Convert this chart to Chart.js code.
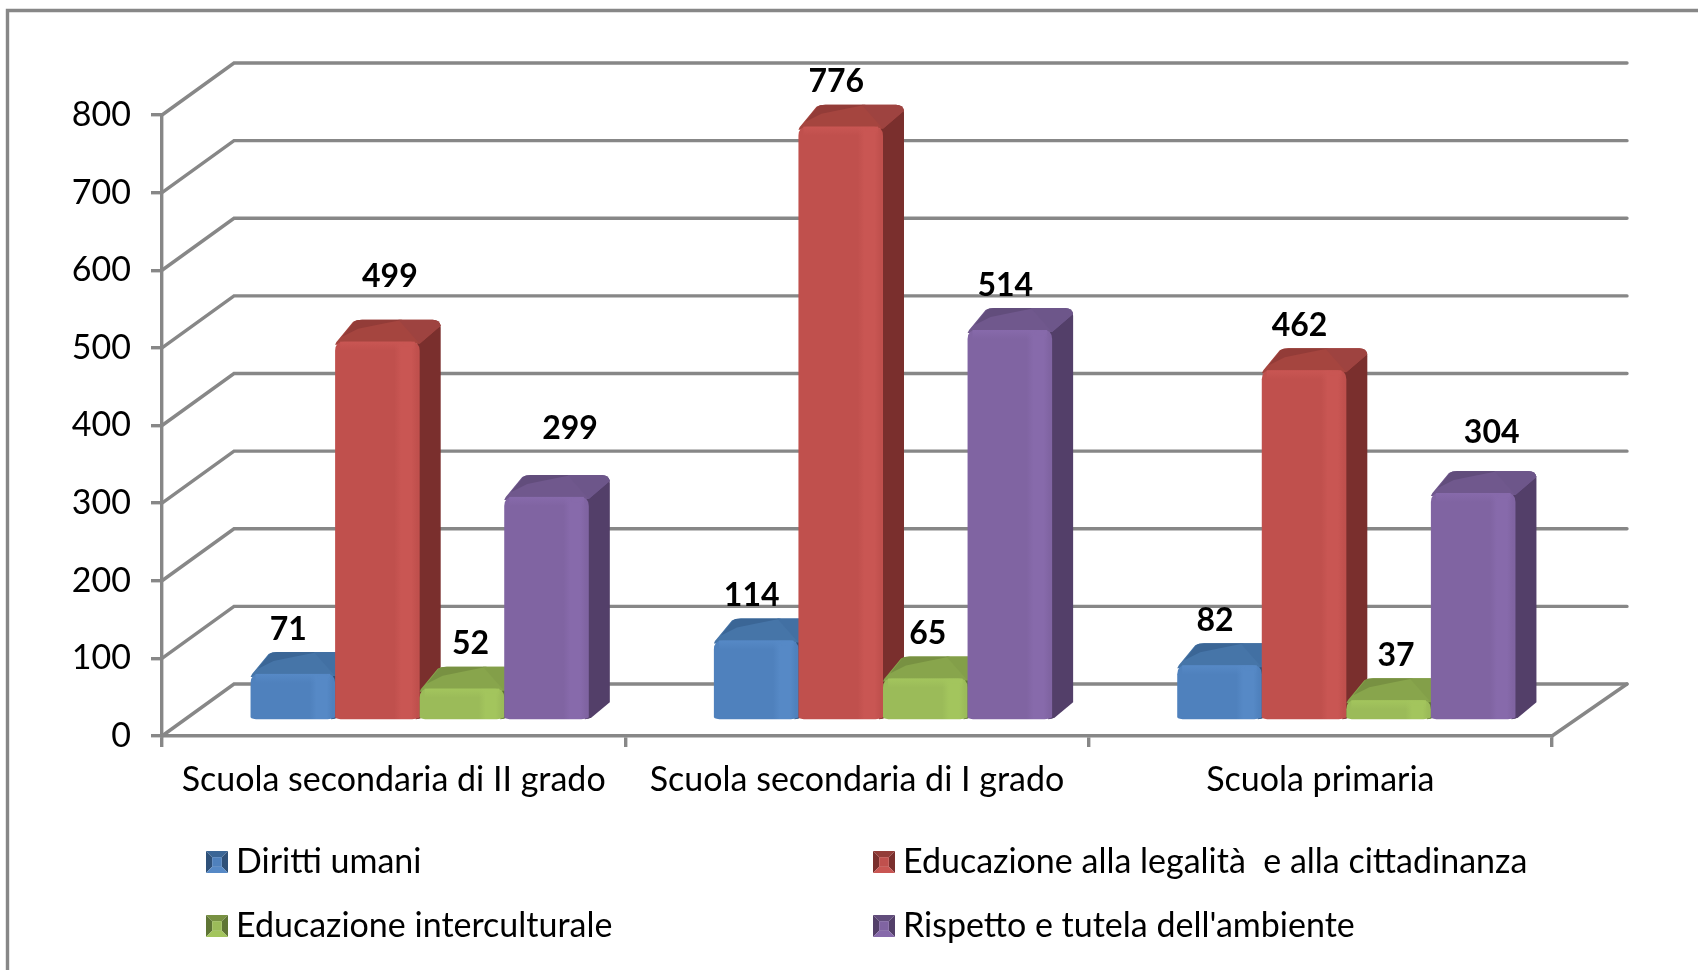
<!DOCTYPE html>
<html><head><meta charset="utf-8">
<style>html,body{margin:0;padding:0;background:#fff}canvas{display:block}</style>
<script src="https://cdn.jsdelivr.net/npm/chart.js@4/dist/chart.umd.min.js"></script>
</head><body><canvas id="c" width="1698" height="970"></canvas>
<script>
const categories = ["Scuola secondaria di II grado", "Scuola secondaria di I grado", "Scuola primaria"];
const dirittiUmani = [71, 114, 82];
const educazioneLegalita = [499, 776, 462];
const educazioneInterculturale = [52, 65, 37];
const rispettoAmbiente = [299, 514, 304];
const seriesNames = ["Diritti umani", "Educazione alla legalità  e alla cittadinanza", "Educazione interculturale", "Rispetto e tutela dell'ambiente"];

const FONT = 'Lato, Carlito, sans-serif';
const GREY = '#878787';
const palette = [
  {face:'#4f81bd', hi:'#5689c6', top:'#4675a8', topL:'#3b6696', topR:'#4270a3', side:'#2f5179'},
  {face:'#c0504d', hi:'#c95653', top:'#a5453f', topL:'#933c38', topR:'#9e4340', side:'#7a2f2d'},
  {face:'#9bbb59', hi:'#a3c55d', top:'#88a54c', topL:'#789142', topR:'#839f49', side:'#5f7535'},
  {face:'#8064a2', hi:'#876aab', top:'#70588d', topL:'#624d7c', topR:'#6d568a', side:'#533f69'}
];
// depth of the 3D projection
const WALL = {dx:72, dy:52};
const BAR = {dx:26, topLift:7, baseLift:15, depthX:21, depthY:22, sideBottom:17, r:9};
// hand placed offsets of the value labels, per series and category
const labelNudge = [
  [[-15,0],[-15,0],[-15,0]],
  [[2,-20],[-15,0],[-15,0]],
  [[-2,0],[-8,0],[-3,0]],
  [[13,-24],[-15,0],[8,-16]]
];

function drawBar(ctx, el, pal){
  const w = el.width;
  const x0 = el.x - w/2 + BAR.dx, x1 = x0 + w;
  const yt = el.y - BAR.topLift, yb = el.base - BAR.baseLift;
  const dx = BAR.depthX, dy = BAR.depthY, r = BAR.r;
  // side
  ctx.fillStyle = pal.side;
  ctx.beginPath();
  ctx.moveTo(x1-3, yt+2);
  ctx.lineTo(x1+dx-3, yt-dy+2);
  ctx.quadraticCurveTo(x1+dx, yt-dy+3, x1+dx, yt-dy+8);
  ctx.lineTo(x1+dx, yb-BAR.sideBottom);
  ctx.lineTo(x1+3, yb-2);
  ctx.quadraticCurveTo(x1, yb, x1-4, yb);
  ctx.closePath(); ctx.fill();
  // top
  ctx.fillStyle = pal.top;
  ctx.beginPath();
  ctx.moveTo(x0, yt+3);
  ctx.quadraticCurveTo(x0+1, yt, x0+4, yt-3);
  ctx.lineTo(x0+dx-3, yt-dy+2);
  ctx.quadraticCurveTo(x0+dx, yt-dy, x0+dx+6, yt-dy);
  ctx.lineTo(x1+dx-8, yt-dy);
  ctx.quadraticCurveTo(x1+dx-1, yt-dy, x1+dx, yt-dy+6);
  ctx.lineTo(x1, yt+2);
  ctx.lineTo(x0, yt+3);
  ctx.closePath(); ctx.fill();
  // top facets: left and right
  ctx.fillStyle = pal.topL;
  ctx.beginPath();
  ctx.moveTo(x0+7, yt-5); ctx.lineTo(x0+dx-2, yt-dy+2); ctx.quadraticCurveTo(x0+dx, yt-dy, x0+dx+6, yt-dy);
  ctx.lineTo(x0+dx+w*0.55, yt-dy); ctx.quadraticCurveTo(x0+w*0.5, yt-dy+5, x0+dx+2, yt-dy+9);
  ctx.closePath(); ctx.fill();
  ctx.fillStyle = pal.topR;
  ctx.beginPath();
  ctx.moveTo(x0+dx+w*0.5, yt-dy); ctx.lineTo(x1+dx-8, yt-dy); ctx.quadraticCurveTo(x1+dx-1, yt-dy, x1+dx, yt-dy+6);
  ctx.lineTo(x1, yt+2); ctx.closePath(); ctx.fill();
  // front
  const g = ctx.createLinearGradient(x0, 0, x1, 0);
  g.addColorStop(0, pal.face); g.addColorStop(0.70, pal.face);
  g.addColorStop(0.78, pal.hi); g.addColorStop(0.90, pal.hi); g.addColorStop(0.97, pal.face); g.addColorStop(1, pal.face);
  ctx.fillStyle = g;
  ctx.beginPath();
  ctx.moveTo(x0, yt+r);
  ctx.quadraticCurveTo(x0, yt, x0+r, yt);
  ctx.lineTo(x1-r, yt);
  ctx.quadraticCurveTo(x1, yt, x1, yt+r);
  ctx.lineTo(x1, yb-2);
  ctx.quadraticCurveTo(x1-2, yb, x1-r-3, yb);
  ctx.lineTo(x0+r, yb);
  ctx.quadraticCurveTo(x0+1, yb, x0, yb-2);
  ctx.closePath(); ctx.fill();
  // highlight of the top bevel
  const h = ctx.createLinearGradient(0, yt, 0, yt+9);
  h.addColorStop(0, pal.hi); h.addColorStop(1, pal.hi + '00');
  ctx.fillStyle = h;
  ctx.fillRect(x0+5, yt, w-10, 9);
  ctx.fillStyle = pal.hi;
  ctx.beginPath(); ctx.ellipse(x1-12, yt+3, 6, 2.4, 0, 0, Math.PI*2); ctx.fill();
}

function drawLegendBox(ctx, x, y, s, pal){
  const m = s*0.28;
  const quad = (c, pts)=>{ctx.fillStyle=c;ctx.beginPath();pts.forEach((p,i)=>i?ctx.lineTo(p[0],p[1]):ctx.moveTo(p[0],p[1]));ctx.closePath();ctx.fill();};
  const a=[x,y],b=[x+s,y],c=[x+s,y+s],d=[x,y+s];
  const A=[x+m,y+m],B=[x+s-m,y+m],C=[x+s-m,y+s-m],D=[x+m,y+s-m];
  quad(pal.topL,[a,b,B,A]);
  quad(pal.side,[a,A,D,d]);
  quad(pal.side,[b,B,C,c]);
  quad(pal.hi,[d,c,C,D]);
  quad(pal.face,[A,B,C,D]);
}

const plugin3d = {
  id: 'plugin3d',
  beforeDatasetsDraw(chart){
    const {ctx, scales:{x, y}} = chart;
    ctx.save();
    // outer frame
    ctx.strokeStyle = GREY; ctx.lineWidth = 3.4; ctx.lineCap = 'butt';
    ctx.beginPath(); ctx.moveTo(7.5, 970); ctx.lineTo(7.5, 10.5); ctx.lineTo(1698, 10.5); ctx.stroke();
    // walls: one diagonal and one back line per tick
    ctx.lineCap = 'round';
    y.ticks.forEach(t=>{
      const py = y.getPixelForValue(t.value);
      ctx.beginPath();
      ctx.moveTo(x.left, py);
      ctx.lineTo(x.left + WALL.dx, py - WALL.dy);
      ctx.lineTo(x.right + WALL.dx + 3, py - WALL.dy);
      ctx.stroke();
    });
    const py0 = y.getPixelForValue(0);
    ctx.beginPath(); ctx.moveTo(x.right, py0); ctx.lineTo(x.right + WALL.dx + 3, py0 - WALL.dy); ctx.stroke();
    ctx.restore();
  },
  beforeDatasetDraw(){ return false; },
  afterDatasetsDraw(chart){
    const {ctx} = chart;
    ctx.save();
    chart.data.labels.forEach((_, i)=>{
      chart.data.datasets.forEach((ds, d)=>{
        drawBar(ctx, chart.getDatasetMeta(d).data[i], palette[d]);
      });
    });
    // value labels
    ctx.fillStyle = '#000'; ctx.textAlign = 'center'; ctx.textBaseline = 'middle';
    ctx.font = 'bold 32px ' + FONT;
    chart.data.datasets.forEach((ds, d)=>{
      chart.getDatasetMeta(d).data.forEach((el, i)=>{
        const n = labelNudge[d][i];
        const lx = el.x + BAR.dx + BAR.depthX/2 + n[0];
        const ly = el.y - BAR.topLift - BAR.depthY - 22.5 + n[1];
        ctx.fillText(String(ds.data[i]), lx, ly);
      });
    });
    // legend, two columns
    const cols = [206, 873], rows = [862, 926];
    ctx.textAlign = 'left'; ctx.font = '34px ' + FONT;
    chart.data.datasets.forEach((ds, d)=>{
      const cx = cols[d%2], cy = rows[Math.floor(d/2)];
      drawLegendBox(ctx, cx, cy-11, 22, palette[d]);
      ctx.fillStyle = '#000';
      ctx.fillText(ds.label, cx+30, cy);
    });
    ctx.restore();
  }
};

const seriesValues = [dirittiUmani, educazioneLegalita, educazioneInterculturale, rispettoAmbiente];
new Chart(document.getElementById('c'), {
  type: 'bar',
  data: {
    labels: categories,
    datasets: seriesValues.map((v, i)=>({label: seriesNames[i], data: v, backgroundColor: palette[i].face, barPercentage: 1, categoryPercentage: 0.73}))
  },
  options: {
    responsive: false, animation: false,
    layout: {padding: {left: 0, right: 146, top: 115, bottom: 0}},
    plugins: {legend: {display: false}, tooltip: {enabled: false}, title: {display: false}},
    scales: {
      x: {
        afterFit(s){ s.height = 234; },
        border: {color: GREY, width: 3.4},
        grid: {display: true, drawOnChartArea: false, drawTicks: true, tickLength: 11, color: GREY, lineWidth: 3.4},
        ticks: {color: '#000', font: {family: FONT, size: 34}, padding: 13, maxRotation: 0, autoSkip: false}
      },
      y: {
        min: 0, max: 800,
        afterFit(s){ s.width = 162; },
        border: {color: GREY, width: 3.4},
        grid: {display: true, drawOnChartArea: false, drawTicks: true, tickLength: 11, color: GREY, lineWidth: 3.4},
        ticks: {color: '#000', font: {family: FONT, size: 34}, stepSize: 100, padding: 20}
      }
    }
  },
  plugins: [plugin3d]
});
</script></body></html>
